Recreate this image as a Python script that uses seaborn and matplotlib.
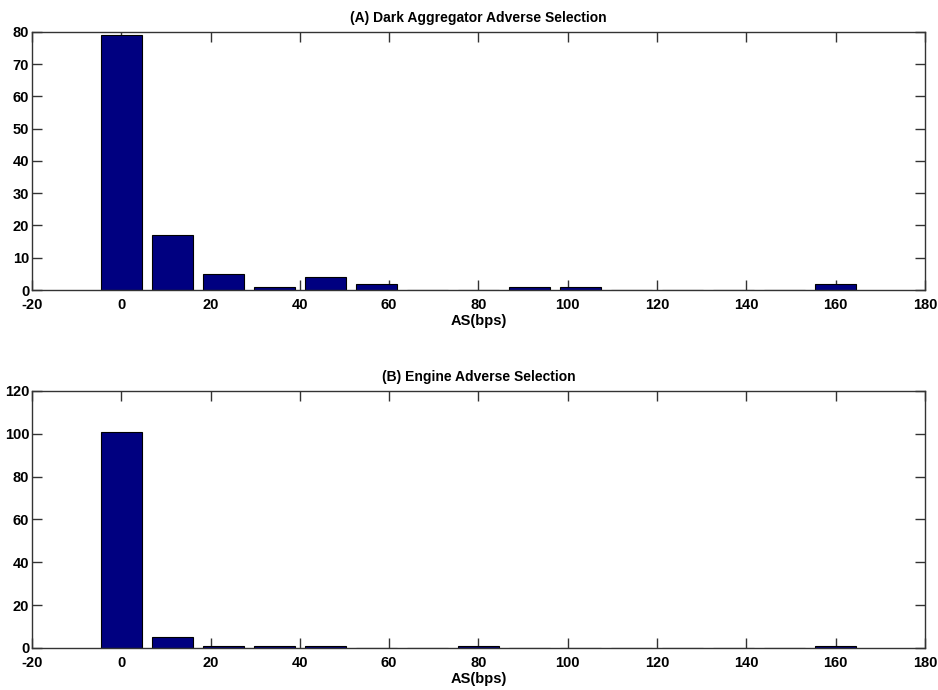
import matplotlib
matplotlib.use("Agg")
import matplotlib.pyplot as plt
import seaborn as sns
import pandas as pd

# -----------------------------
# DATA
# -----------------------------

bin_centers = [0.0, 11.4, 22.9, 34.3, 45.7, 57.1, 68.6, 80.0,
               91.4, 102.9, 114.3, 125.7, 137.1, 148.6, 160.0]

dark_counts = [79, 17, 5, 1, 4, 2, 0, 0, 1, 1, 0, 0, 0, 0, 2]
engine_counts = [101, 5, 1, 1, 1, 0, 0, 1, 0, 0, 0, 0, 0, 0, 1]

titles = ["(A) Dark Aggregator Adverse Selection", "(B) Engine Adverse Selection"]
x_ticks = [-20, 0, 20, 40, 60, 80, 100, 120, 140, 160, 180]
y_ticks_a = [0, 10, 20, 30, 40, 50, 60, 70, 80]
y_ticks_b = [0, 20, 40, 60, 80, 100, 120]

# -----------------------------
# STYLE
# -----------------------------

sns.set_style("ticks")
plt.rcParams['font.family'] = ['Liberation Sans Narrow', 'Liberation Sans', 'DejaVu Sans']
plt.rcParams['font.weight'] = 'bold'
plt.rcParams['axes.unicode_minus'] = False
plt.rcParams['xtick.direction'] = 'in'
plt.rcParams['ytick.direction'] = 'in'

fig = plt.figure(figsize=(9.38, 6.9), dpi=100)
ax_a = fig.add_axes([0.0341, 0.5797, 0.952, 0.374])
ax_b = fig.add_axes([0.0341, 0.0609, 0.952, 0.3725])

panels = [
    (ax_a, dark_counts, titles[0], y_ticks_a),
    (ax_b, engine_counts, titles[1], y_ticks_b),
]

for ax, counts, title, yt in panels:
    df = pd.DataFrame({"center": bin_centers, "count": counts})
    sns.barplot(data=df, x="center", y="count", native_scale=True,
                color="#000080", saturation=1, edgecolor="black",
                linewidth=0.8, width=0.8, ax=ax)
    ax.set_xlim(-20, 180)
    ax.set_ylim(yt[0], yt[-1])
    ax.set_xticks(x_ticks)
    ax.set_yticks(yt)
    ax.tick_params(axis="both", which="both", direction="in", length=7,
                   width=1, top=True, right=True, labelsize=10.5,
                   colors="#333333", labelcolor="black", pad=2)
    ax.tick_params(axis="x", pad=6)
    for lab in ax.get_xticklabels() + ax.get_yticklabels():
        lab.set_fontweight("bold")
    for s in ax.spines.values():
        s.set_visible(True)
        s.set_color("#333333")
        s.set_linewidth(1)
    ax.set_title(title, fontsize=10, fontweight="bold", color="black",
                 family=["Liberation Sans", "DejaVu Sans"], pad=7)
    ax.set_xlabel("AS(bps)", fontsize=10.5, fontweight="bold", color="black",
                  family=["Liberation Sans", "DejaVu Sans"], labelpad=1.5)
    ax.set_ylabel("")

plt.savefig("out.png", dpi=100)
